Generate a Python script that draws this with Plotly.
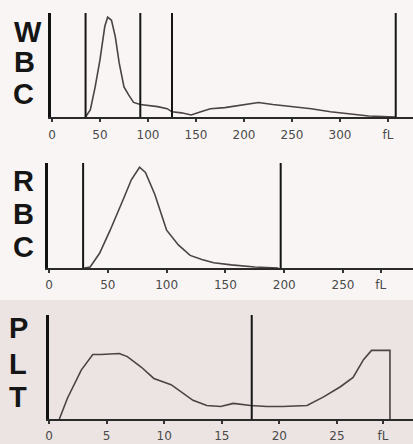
import plotly.graph_objects as go

W, H = 413, 444

# ---------------- data ----------------
wbc_fl = [35, 40, 45, 50, 55, 58, 62, 66, 70, 75, 80, 85, 92, 100, 110, 120, 125, 135, 145,
          155, 165, 180, 200, 215, 230, 250, 270, 290, 310, 330, 358]
wbc_val = [0, 7, 29, 55, 87, 96, 93, 77, 52, 29, 21, 14, 12, 11, 10, 8, 5, 4, 2,
           5, 8, 9, 12, 14, 12, 10, 8, 5, 3, 1, 0]
wbc_lines = [35, 92, 125, 358]
wbc_ticks = [0, 50, 100, 150, 200, 250, 300, 350]
wbc_ticktext = ["0", "50", "100", "150", "200", "250", "300", "fL"]

rbc_fl = [30, 35, 43, 52, 63, 70, 77, 82, 90, 100, 110, 120, 130, 140, 155, 175, 195]
rbc_val = [0, 1, 14, 36, 65, 84, 96, 91, 70, 36, 22, 12, 8, 5, 3, 1, 0]
rbc_lines = [29, 197]
rbc_ticks = [0, 50, 100, 150, 200, 250, 282]
rbc_ticktext = ["0", "50", "100", "150", "200", "250", "fL"]

plt_fl = [0.9, 1.6, 2.8, 3.8, 4.5, 6.1, 6.8, 8.0, 9.1, 10.6, 12.5, 13.7, 14.9, 16.0, 17.5,
          18.9, 20.3, 22.4, 23.8, 25.3, 26.4, 27.3, 28.0, 29.6, 29.6]
plt_val = [0, 20, 47, 62, 62, 63, 60, 50, 39, 33, 18, 13, 12, 15, 13,
           12, 12, 13, 21, 31, 40, 57, 66, 66, 0]
plt_lines = [17.6]
plt_ticks = [0, 5, 10, 15, 20, 25, 29]
plt_ticktext = ["0", "5", "10", "15", "20", "25", "fL"]


def px_x(x):
    return x / W


def px_y(y):
    return (H - y) / H


fig = go.Figure()

panels = [
    ("1", wbc_fl, wbc_val, wbc_lines, wbc_ticks, wbc_ticktext, 51, [-1, 376], 117, 13,
     [("W", 28, 32), ("B", 24, 62), ("C", 23, 94)], 3),
    ("2", rbc_fl, rbc_val, rbc_lines, rbc_ticks, rbc_ticktext, 48, [-0.85, 309.5], 268, 163,
     [("R", 23, 181), ("B", 23, 214), ("C", 23, 247)], 2),
    ("3", plt_fl, plt_val, plt_lines, plt_ticks, plt_ticktext, 49, [0, 31.6], 419, 315,
     [("P", 18, 328), ("L", 18, 364), ("T", 18, 397)], 2),
]

# paper tint for the PLT region
fig.add_shape(type="rect", xref="paper", yref="paper", x0=0, x1=1,
              y0=0, y1=px_y(300), fillcolor="#ece3e3", line_width=0, layer="below")

for name, xs, ys, lines, ticks, ttext, xl, xr, yb, yt, letters, stand in panels:
    xa = "x" if name == "1" else "x" + name
    ya = "y" if name == "1" else "y" + name
    fig.add_trace(go.Scatter(x=xs, y=ys, mode="lines", xaxis=xa, yaxis=ya,
                             line=dict(color="#4a4444", width=1.6), showlegend=False,
                             hoverinfo="skip"))
    for lv in lines:
        fig.add_shape(type="line", xref=xa, yref=ya, x0=lv, x1=lv, y0=0, y1=100,
                      line=dict(color="#151515", width=2))
    fig.layout["xaxis" + ("" if name == "1" else name)] = dict(
        domain=[px_x(xl), 1.0], range=xr, anchor=ya, showgrid=False, zeroline=False,
        showline=True, linecolor="#2a2a2a", linewidth=2, automargin=False,
        tickmode="array", tickvals=ticks, ticktext=ttext, ticks="outside",
        ticklen=3, tickwidth=1.5, tickcolor="#333", ticklabelstandoff=stand,
        tickfont=dict(family="DejaVu Sans", size=12, color="#4a4a4a"),
        fixedrange=True)
    fig.layout["yaxis" + ("" if name == "1" else name)] = dict(
        domain=[px_y(yb), px_y(yt)], range=[0, 100], anchor=xa, showgrid=False,
        zeroline=False, showline=True, linecolor="#111", linewidth=2.5, automargin=False,
        showticklabels=False, ticks="", fixedrange=True)
    for ch, cx, cy in letters:
        fig.add_annotation(text="<b>" + ch + "</b>", xref="paper", yref="paper",
                           x=px_x(cx), y=px_y(cy),
                           xanchor="center", yanchor="middle", showarrow=False,
                           font=dict(family="Liberation Sans", size=29, color="#151515"))

fig.update_layout(width=W, height=H, margin=dict(l=0, r=0, t=0, b=0, autoexpand=False),
                  paper_bgcolor="#f8f5f4", plot_bgcolor="rgba(0,0,0,0)",
                  showlegend=False)

fig.write_html("out.html", config={"displayModeBar": False},
               post_script="document.body.style.margin='0';document.body.style.overflow='hidden';")
